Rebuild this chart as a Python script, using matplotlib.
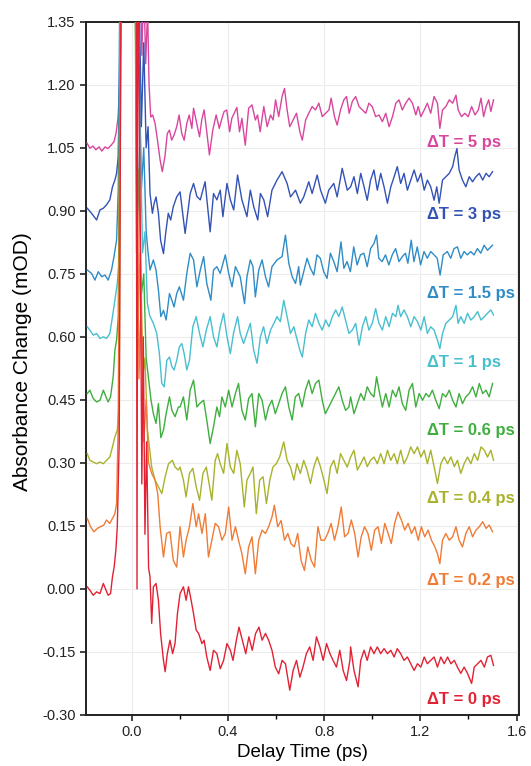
import matplotlib
matplotlib.use("Agg")
import matplotlib.pyplot as plt
from matplotlib.ticker import MultipleLocator, FormatStrFormatter

plt.rcParams['font.family'] = ['Liberation Sans', 'DejaVu Sans']

# ---------------- data (delay time in ps, absorbance change in mOD) ----------------
x_5ps = [-0.186,-0.174,-0.161,-0.149,-0.136,-0.124,-0.111,-0.099,-0.086,-0.074,-0.065,-0.057,-0.053,-0.049,-0.045,-0.041,-0.03,0.0,0.035,0.042,0.05,0.058,0.066,0.072,
         0.079,0.087,0.097,0.107,0.118,0.127,0.138,0.148,0.157,0.166,0.176,0.187,0.197,0.208,0.218,0.229,0.239,0.250,0.257,0.270,
         0.282,0.291,0.301,0.312,0.323,0.337,0.351,0.364,0.375,0.384,0.395,0.407,0.416,0.426,0.437,0.448,0.458,0.472,0.486,0.500,0.514,0.523,0.534,
         0.549,0.563,0.577,0.588,0.598,0.611,0.625,0.635,0.646,0.657,0.671,0.685,0.699,0.709,0.723,0.736,0.750,0.764,0.778,0.792,
         0.806,0.820,0.829,0.843,0.854,0.868,0.882,0.893,0.904,0.917,0.931,0.945,0.959,0.973,0.986,1.000,1.014,1.028,1.042,1.056,
         1.070,1.084,1.098,1.111,1.125,1.139,1.153,1.167,1.181,1.191,1.202,1.216,1.229,1.243,1.257,1.271,1.281,1.292,1.306,1.320,
         1.334,1.348,1.357,1.371,1.385,1.399,1.413,1.427,1.441,1.452,1.463,1.473,1.484,1.493,1.504]
y_5ps = [1.061,1.049,1.054,1.045,1.052,1.042,1.052,1.048,1.056,1.064,1.085,1.121,1.164,1.218,1.306,1.50,1.90,2.00,1.60,1.27,1.45,1.25,1.38,1.20,
         1.123,1.128,1.108,1.068,1.021,0.993,1.029,1.084,1.092,1.068,1.080,1.100,1.128,1.084,1.068,1.108,1.128,1.096,1.144,1.108,
         1.076,1.116,1.140,1.088,1.033,1.092,1.128,1.096,1.120,1.136,1.140,1.088,1.120,1.132,1.146,1.088,1.120,1.056,1.144,1.152,1.116,1.128,1.088,
         1.148,1.100,1.128,1.116,1.164,1.124,1.172,1.191,1.140,1.100,1.116,1.132,1.088,1.068,1.116,1.132,1.148,1.140,1.156,1.124,
         1.132,1.140,1.168,1.124,1.104,1.140,1.164,1.172,1.132,1.160,1.172,1.148,1.140,1.132,1.156,1.148,1.124,1.128,1.112,1.132,
         1.100,1.124,1.156,1.164,1.140,1.156,1.168,1.156,1.128,1.148,1.124,1.140,1.156,1.132,1.172,1.156,1.096,1.140,1.148,1.164,
         1.156,1.175,1.140,1.124,1.132,1.124,1.148,1.128,1.140,1.168,1.124,1.148,1.164,1.136,1.164]

x_3ps = [-0.185,-0.167,-0.146,-0.132,-0.118,-0.105,-0.091,-0.080,-0.070,-0.063,-0.056,-0.046,-0.03,0.0,0.012,0.02,0.03,0.04,0.05,0.06,0.068,
         0.076,0.086,0.093,0.101,0.111,0.120,0.132,0.141,0.152,0.162,0.173,0.187,0.201,
         0.222,0.243,0.257,0.271,0.285,0.305,0.326,0.340,0.354,0.368,0.379,0.396,0.410,0.424,0.440,0.458,0.479,0.493,0.507,0.524,
         0.535,0.549,0.565,0.583,0.604,0.625,0.646,0.660,0.681,0.701,0.715,0.736,0.750,0.771,0.785,0.805,0.819,0.840,0.854,0.875,0.896,
         0.910,0.924,0.938,0.952,0.966,0.979,0.993,1.007,1.021,1.035,1.049,1.063,1.077,1.091,1.104,1.118,1.132,1.146,1.160,1.174,
         1.188,1.202,1.216,1.229,1.243,1.257,1.268,1.278,1.292,1.306,1.320,1.334,1.343,1.352,1.361,1.375,1.389,1.403,1.417,1.431,
         1.445,1.459,1.473,1.486,1.500]
y_3ps = [0.906,0.894,0.878,0.902,0.906,0.914,0.926,0.957,0.973,0.989,1.029,1.40,1.90,2.00,1.60,1.25,1.45,1.10,1.30,1.05,1.10,
         0.941,0.894,0.917,0.933,0.894,0.830,0.798,0.846,0.894,0.878,0.910,0.933,0.945,
         0.846,0.941,0.965,0.934,0.926,0.969,0.850,0.941,0.926,0.949,0.886,0.965,0.926,0.902,0.985,0.926,0.886,0.949,0.910,0.878,
         0.941,0.926,0.886,0.949,0.973,0.993,0.965,0.933,0.949,0.918,0.933,0.969,0.941,0.985,0.949,0.918,0.949,0.965,0.933,1.001,0.949,
         0.957,0.981,0.941,0.989,0.957,0.925,0.973,0.997,0.949,0.989,0.957,0.918,0.957,0.981,1.005,0.965,0.989,0.949,0.973,0.997,
         0.969,0.989,0.949,0.973,0.957,0.925,0.957,0.918,0.973,0.981,0.989,1.005,1.029,1.048,0.997,0.973,0.957,0.981,0.969,0.981,
         0.989,0.973,0.989,0.981,0.993]

x_15ps = [-0.185,-0.167,-0.153,-0.139,-0.125,-0.111,-0.098,-0.084,-0.074,-0.063,-0.056,-0.05,-0.03,0.0,0.01,0.02,0.03,0.04,0.05,0.06,0.068,
          0.076,0.090,0.101,0.111,0.121,0.132,0.143,0.157,0.167,0.176,0.187,0.198,
          0.215,0.229,0.243,0.257,0.271,0.285,0.299,0.312,0.329,0.340,0.354,0.368,0.389,0.403,0.417,0.431,0.451,0.469,0.479,0.493,
          0.504,0.514,0.528,0.542,0.556,0.569,0.583,0.604,0.625,0.639,0.653,0.667,0.681,0.694,
          0.701,0.715,0.729,0.743,0.757,0.770,0.784,0.798,0.812,0.826,0.840,0.854,0.870,0.882,0.895,0.909,0.923,0.937,0.951,0.965,
          0.979,0.993,1.007,1.018,1.027,1.041,1.055,1.069,1.083,1.097,1.111,1.125,1.138,1.148,1.162,1.173,1.187,1.201,1.215,1.229,
          1.243,1.257,1.270,1.282,1.295,1.312,1.326,1.340,1.354,1.368,1.382,1.395,1.409,1.423,1.437,1.451,1.465,1.479,1.500]
y_15ps = [0.759,0.751,0.735,0.755,0.743,0.747,0.735,0.759,0.790,0.830,0.95,1.40,1.90,2.00,1.70,1.10,1.30,0.95,1.05,0.85,0.80,
          0.759,0.783,0.759,0.711,0.648,0.663,0.640,0.703,0.687,0.671,0.703,0.719,
          0.687,0.751,0.799,0.783,0.719,0.759,0.791,0.727,0.687,0.759,0.767,0.751,0.795,0.751,0.719,0.767,0.743,0.679,0.743,0.783,
          0.767,0.695,0.759,0.783,0.743,0.719,0.767,0.783,0.791,0.842,0.775,0.743,0.727,0.767,
          0.723,0.755,0.787,0.763,0.747,0.795,0.787,0.755,0.739,0.799,0.779,0.755,0.826,0.763,0.779,0.755,0.814,0.771,0.795,0.799,
          0.767,0.810,0.822,0.842,0.787,0.779,0.795,0.771,0.795,0.810,0.779,0.791,0.799,0.775,0.830,0.779,0.814,0.771,0.803,0.787,
          0.803,0.795,0.787,0.747,0.795,0.803,0.787,0.810,0.814,0.787,0.803,0.795,0.803,0.795,0.810,0.799,0.818,0.806,0.818]

x_1ps = [-0.185,-0.174,-0.160,-0.146,-0.132,-0.118,-0.105,-0.091,-0.080,-0.070,-0.060,-0.052,-0.045,-0.03,0.0,0.015,0.025,0.035,0.045,0.055,0.065,0.075,
         0.090,0.104,0.115,0.125,0.135,0.146,0.157,0.167,0.176,0.187,0.198,0.208,0.218,0.229,0.240,0.254,0.268,0.282,0.296,0.310,
         0.326,0.340,0.354,0.368,0.382,0.396,0.410,0.423,0.440,0.451,0.465,0.479,0.493,0.507,0.521,0.535,0.548,0.562,
         0.577,0.591,0.604,0.618,0.632,0.646,0.660,0.674,0.688,0.699,0.709,0.723,0.736,0.750,0.764,0.778,0.792,0.806,0.820,0.834,
         0.848,0.861,0.875,0.889,0.903,0.917,0.931,0.945,0.959,0.973,0.986,1.000,1.014,1.028,1.042,1.056,1.070,1.084,1.098,1.107,
         1.118,1.132,1.146,1.160,1.174,1.188,1.202,1.216,1.229,1.243,1.257,1.271,1.281,1.292,1.306,1.320,1.334,1.348,1.357,1.368,
         1.382,1.396,1.410,1.424,1.438,1.452,1.466,1.479,1.493,1.504]
y_1ps = [0.624,0.616,0.604,0.608,0.596,0.600,0.596,0.608,0.648,0.687,0.727,0.783,1.40,1.90,2.00,1.50,0.90,1.10,0.80,0.85,0.68,0.65,
         0.632,0.608,0.560,0.489,0.481,0.544,0.552,0.529,0.521,0.544,0.576,0.584,0.560,0.521,0.544,0.624,0.648,0.608,0.576,0.616,
         0.648,0.600,0.576,0.624,0.656,0.600,0.560,0.608,0.648,0.608,0.584,0.608,0.632,0.568,0.537,0.600,0.624,0.584,
         0.616,0.632,0.648,0.636,0.687,0.648,0.608,0.624,0.592,0.568,0.552,0.608,0.640,0.624,0.656,0.632,0.616,0.640,0.624,0.648,
         0.664,0.648,0.671,0.640,0.608,0.616,0.632,0.580,0.624,0.648,0.616,0.632,0.667,0.632,0.616,0.648,0.624,0.656,0.648,0.675,
         0.648,0.664,0.648,0.624,0.648,0.636,0.616,0.648,0.608,0.624,0.616,0.592,0.572,0.608,0.632,0.640,0.648,0.675,0.632,0.648,
         0.632,0.656,0.640,0.648,0.660,0.640,0.648,0.656,0.664,0.652]

x_06ps = [-0.185,-0.174,-0.160,-0.146,-0.132,-0.118,-0.107,-0.098,-0.088,-0.077,-0.070,-0.063,-0.056,-0.048,-0.03,0.0,0.013,0.02,0.03,0.04,0.05,0.06,0.07,0.08,
          0.090,0.101,0.111,0.121,0.132,0.143,0.157,0.167,0.180,0.194,
          0.201,0.215,0.229,0.243,0.257,0.271,0.282,0.299,0.312,0.326,0.340,0.354,0.365,0.375,0.389,0.403,0.417,0.431,0.444,0.458,
          0.472,0.486,0.500,0.514,0.528,0.542,0.556,0.569,0.583,0.597,0.611,0.625,0.639,0.653,0.667,0.680,0.694,0.708,0.722,0.736,
          0.750,0.764,0.778,0.792,0.805,0.819,0.833,0.847,0.861,0.875,0.889,0.903,
          0.910,0.924,0.938,0.952,0.966,0.979,0.993,1.007,1.018,1.028,1.042,1.056,1.070,1.084,1.098,1.111,1.125,1.139,1.153,1.167,
          1.181,1.195,1.209,1.223,1.236,1.250,1.264,1.278,1.292,1.306,1.320,1.334,1.348,1.361,1.375,1.389,1.403,1.417,1.431,1.445,
          1.459,1.473,1.486,1.500]
y_06ps = [0.465,0.473,0.453,0.445,0.449,0.473,0.457,0.445,0.457,0.505,0.568,0.592,0.648,1.40,1.90,2.00,1.60,0.80,1.00,0.70,0.75,0.55,0.50,0.45,
          0.417,0.394,0.441,0.360,0.378,0.417,0.457,0.425,0.410,0.433,
          0.433,0.457,0.402,0.473,0.497,0.433,0.441,0.449,0.402,0.346,0.386,0.433,0.410,0.457,0.433,0.473,0.433,0.465,0.489,0.425,
          0.402,0.453,0.465,0.386,0.465,0.449,0.402,0.433,0.449,0.417,0.441,0.465,0.481,0.433,0.402,0.457,0.465,0.433,0.473,0.497,
          0.465,0.489,0.497,0.449,0.417,0.433,0.449,0.465,0.481,0.449,0.425,0.433,
          0.457,0.417,0.441,0.465,0.449,0.481,0.465,0.457,0.505,0.473,0.433,0.465,0.433,0.473,0.457,0.481,0.441,0.425,0.473,0.489,
          0.433,0.465,0.449,0.465,0.457,0.473,0.449,0.429,0.465,0.457,0.473,0.449,0.433,0.465,0.441,0.457,0.465,0.481,0.457,0.489,
          0.465,0.473,0.457,0.489]

x_04ps = [-0.185,-0.174,-0.160,-0.146,-0.132,-0.118,-0.105,-0.091,-0.080,-0.070,-0.060,-0.052,-0.045,-0.03,0.0,0.015,0.025,0.035,0.045,0.055,0.065,0.075,
          0.083,0.097,0.111,0.125,0.139,0.153,0.169,0.180,0.194,
          0.201,0.215,0.226,0.240,0.254,0.268,0.282,0.296,0.310,0.324,0.333,0.347,0.357,0.368,0.382,0.396,0.410,0.424,0.437,0.451,
          0.468,0.479,0.493,0.504,0.518,0.532,0.546,0.560,0.574,0.587,0.601,0.615,0.632,0.646,0.660,0.674,0.687,0.701,0.715,0.729,
          0.743,0.757,0.771,0.785,0.799,0.812,0.826,0.840,0.854,0.868,0.882,0.896,
          0.910,0.924,0.938,0.952,0.966,0.979,0.993,1.007,1.021,1.035,1.049,1.063,1.077,1.091,1.104,1.118,1.132,1.146,1.160,1.174,
          1.188,1.202,1.216,1.229,1.243,1.257,1.271,1.285,1.299,1.313,1.327,1.341,1.354,1.368,1.382,1.396,1.410,1.424,1.438,1.452,
          1.466,1.479,1.493,1.504]
y_04ps = [0.322,0.306,0.302,0.298,0.302,0.298,0.306,0.314,0.338,0.362,0.378,0.449,1.40,1.90,2.00,1.40,0.60,0.80,0.50,0.55,0.38,0.33,
          0.290,0.259,0.243,0.227,0.267,0.298,0.306,0.290,0.283,
          0.290,0.259,0.219,0.275,0.287,0.243,0.211,0.275,0.290,0.243,0.211,0.306,0.322,0.298,0.275,0.346,0.290,0.275,0.330,0.298,
          0.195,0.259,0.275,0.290,0.179,0.259,0.267,0.203,0.259,0.290,0.298,0.314,0.350,0.306,0.290,0.259,0.298,0.275,0.306,0.283,
          0.251,0.290,0.314,0.290,0.259,0.227,0.290,0.306,0.275,0.322,0.306,0.290,
          0.314,0.330,0.283,0.298,0.314,0.291,0.306,0.314,0.298,0.322,0.298,0.330,0.306,0.322,0.298,0.330,0.298,0.314,0.338,0.322,
          0.338,0.314,0.330,0.298,0.330,0.291,0.251,0.298,0.314,0.298,0.314,0.291,0.306,0.275,0.298,0.314,0.298,0.322,0.306,0.338,
          0.330,0.314,0.330,0.306]

x_02ps = [-0.185,-0.171,-0.157,-0.143,-0.130,-0.116,-0.105,-0.091,-0.080,-0.070,-0.063,-0.056,-0.048,-0.03,0.0,0.02,0.03,0.04,0.05,0.06,0.07,
          0.083,0.097,0.108,0.118,0.132,0.145,0.159,0.173,0.187,
          0.201,0.215,0.226,0.240,0.254,0.268,0.278,0.292,0.306,0.319,0.333,0.347,0.361,0.375,0.389,0.403,0.417,0.431,0.444,0.458,
          0.472,0.486,0.500,0.514,0.528,0.542,0.556,0.569,0.583,0.593,0.607,0.621,0.635,0.649,0.662,0.676,0.690,0.704,0.718,0.732,
          0.746,0.760,0.774,0.787,0.801,0.815,0.829,0.843,0.857,0.871,0.885,
          0.899,0.913,0.927,0.941,0.954,0.968,0.982,0.996,1.010,1.024,1.038,1.052,1.066,1.079,1.093,1.107,1.121,1.135,1.149,1.163,
          1.177,1.191,1.204,1.218,1.232,1.246,1.260,1.271,1.281,1.292,1.306,1.320,1.334,1.348,1.361,1.375,1.389,1.403,1.417,1.431,
          1.445,1.459,1.473,1.486,1.500]
y_02ps = [0.168,0.148,0.136,0.144,0.148,0.152,0.164,0.156,0.168,0.179,0.203,0.40,1.40,1.90,2.00,1.30,0.50,0.70,0.35,0.45,0.30,
          0.275,0.259,0.227,0.148,0.076,0.132,0.136,0.068,0.052,
          0.148,0.076,0.116,0.148,0.203,0.148,0.179,0.132,0.179,0.076,0.116,0.156,0.148,0.116,0.132,0.195,0.116,0.148,0.116,0.084,
          0.036,0.100,0.124,0.036,0.116,0.140,0.132,0.148,0.171,0.199,0.148,0.163,0.116,0.132,0.108,0.100,0.132,0.068,0.044,0.100,
          0.068,0.052,0.148,0.116,0.116,0.132,0.156,0.116,0.148,0.195,0.124,
          0.132,0.164,0.132,0.076,0.124,0.148,0.132,0.092,0.140,0.148,0.108,0.156,0.132,0.108,0.156,0.183,0.164,0.140,0.156,0.132,
          0.148,0.116,0.148,0.124,0.140,0.116,0.100,0.084,0.060,0.116,0.132,0.116,0.124,0.148,0.116,0.100,0.132,0.148,0.124,0.140,
          0.148,0.160,0.144,0.152,0.136]

x_0ps = [-0.185,-0.174,-0.160,-0.146,-0.132,-0.118,-0.107,-0.098,-0.088,-0.080,-0.073,-0.066,-0.060,-0.052,-0.045,-0.03,0.0,0.018,0.022,0.026,
         0.035,0.042,0.048,0.055,0.062,0.070,
         0.076,0.083,0.090,0.101,0.111,0.120,0.132,0.139,0.148,0.159,0.170,0.180,0.190,
         0.201,0.215,0.226,0.236,0.247,0.257,0.268,0.278,0.292,0.301,0.312,0.326,0.340,0.354,0.368,0.382,0.396,0.410,0.421,0.435,
         0.446,0.460,0.474,0.487,0.501,0.515,0.529,0.542,0.556,0.569,0.583,0.597,0.611,0.625,0.639,0.657,0.671,0.685,0.699,0.712,
         0.726,0.740,0.754,0.768,0.782,0.796,0.810,0.824,0.837,0.851,0.865,0.879,0.893,0.907,
         0.910,0.924,0.941,0.952,0.966,0.979,0.993,1.007,1.021,1.035,1.049,1.063,1.077,1.091,1.104,1.118,1.132,1.146,1.160,1.174,
         1.188,1.202,1.216,1.229,1.243,1.257,1.271,1.285,1.299,1.313,1.327,1.341,1.354,1.368,1.382,1.396,1.413,1.424,1.438,1.452,
         1.466,1.479,1.493,1.504]
y_0ps = [0.005,-0.003,-0.015,-0.007,-0.011,0.013,-0.003,-0.015,-0.011,0.029,0.052,0.092,0.148,0.35,1.40,1.90,2.00,1.80,0.00,1.60,
         0.90,0.25,0.60,0.13,0.35,0.05,
         0.029,-0.082,0.005,0.013,-0.027,-0.106,-0.170,-0.197,-0.154,-0.122,-0.154,-0.130,-0.059,
         -0.011,0.005,-0.027,0.005,-0.027,-0.059,-0.098,-0.106,-0.130,-0.122,-0.162,-0.194,-0.146,-0.154,-0.190,-0.170,-0.130,-0.146,-0.170,-0.122,
         -0.091,-0.122,-0.154,-0.114,-0.146,-0.106,-0.091,-0.122,-0.106,-0.122,-0.146,-0.186,-0.202,-0.170,-0.178,-0.241,-0.194,-0.170,-0.210,-0.186,
         -0.154,-0.138,-0.170,-0.114,-0.138,-0.170,-0.130,-0.154,-0.170,-0.186,-0.146,-0.194,-0.218,-0.170,
         -0.138,-0.194,-0.233,-0.170,-0.146,-0.170,-0.138,-0.154,-0.138,-0.154,-0.142,-0.154,-0.146,-0.162,-0.142,-0.154,-0.170,-0.162,-0.178,-0.194,
         -0.178,-0.186,-0.162,-0.178,-0.170,-0.162,-0.186,-0.162,-0.178,-0.162,-0.178,-0.170,-0.186,-0.201,-0.186,-0.201,-0.225,-0.186,-0.178,-0.170,
         -0.186,-0.162,-0.158,-0.182]

labels = ['ΔT = 5 ps', 'ΔT = 3 ps', 'ΔT = 1.5 ps', 'ΔT = 1 ps',
          'ΔT = 0.6 ps', 'ΔT = 0.4 ps', 'ΔT = 0.2 ps', 'ΔT = 0 ps']
label_y = [1.063, 0.890, 0.703, 0.538, 0.376, 0.216, 0.019, -0.263]
colors = ['#d8469e', '#3352b5', '#2f8cc6', '#48bfcf', '#3fae3f', '#a8b22c', '#f07b36', '#e22234']
series = [(x_5ps, y_5ps), (x_3ps, y_3ps), (x_15ps, y_15ps), (x_1ps, y_1ps),
          (x_06ps, y_06ps), (x_04ps, y_04ps), (x_02ps, y_02ps), (x_0ps, y_0ps)]

x_ticks = [0.0, 0.4, 0.8, 1.2, 1.6]
y_ticks = [-0.30, -0.15, 0.00, 0.15, 0.30, 0.45, 0.60, 0.75, 0.90, 1.05, 1.20, 1.35]

# ---------------- figure ----------------
fig = plt.figure(figsize=(5.31, 7.66), dpi=100)
ax = fig.add_axes([0.162, 0.0666, 0.8154, 0.9051])

for (xs, ys), c in zip(series, colors):
    ax.plot(xs, ys, color=c, lw=1.0, zorder=3)

for lab, ly, c in zip(labels, label_y, colors):
    ax.text(1.227, ly, lab, color=c, fontsize=12, fontweight='bold',
            ha='left', va='center', zorder=4)

ax.set_xlim(-0.19, 1.61)
ax.set_ylim(-0.30, 1.35)
ax.set_xticks(x_ticks)
ax.xaxis.set_minor_locator(MultipleLocator(0.2))
ax.set_yticks(y_ticks)
ax.yaxis.set_major_formatter(FormatStrFormatter('%.2f'))
ax.xaxis.set_major_formatter(FormatStrFormatter('%.1f'))
ax.grid(True, which='major', color='#ececec', lw=0.8, zorder=0)
ax.tick_params(axis='both', which='major', direction='out', length=4, width=1.2,
               labelsize=10.5, colors='#222222')
ax.tick_params(axis='x', which='minor', direction='out', length=3, width=1.0)
for s in ax.spines.values():
    s.set_linewidth(1.4)
    s.set_color('#222222')

ax.set_xlabel('Delay Time (ps)', fontsize=13.5)
ax.set_ylabel('Absorbance Change (mOD)', fontsize=15)
ax.xaxis.set_label_coords(0.5, -0.042)
ax.yaxis.set_label_coords(-0.125, 0.509)

fig.savefig('out.png', dpi=100)
